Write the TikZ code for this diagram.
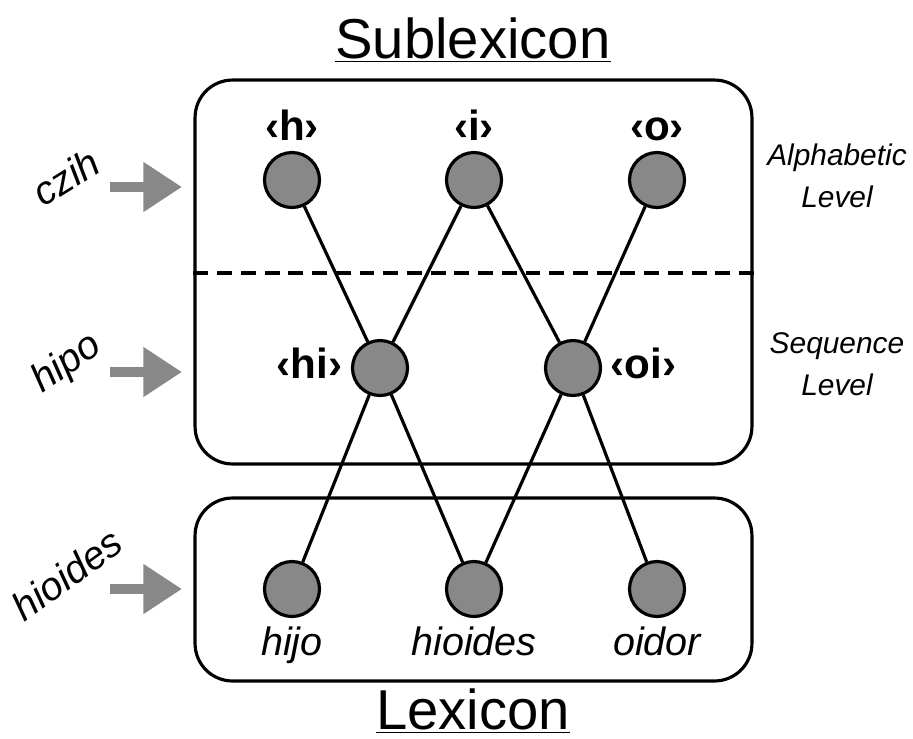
\documentclass[tikz,border=0pt]{standalone}
\usepackage{fontspec}
\setmainfont{Liberation Sans}
\usetikzlibrary{arrows.meta,positioning}
\definecolor{unitgray}{HTML}{888888}

\begin{document}
\begin{tikzpicture}[x=0.02cm,y=-0.02cm,line width=1.8pt,
  panel/.style={draw, rounded corners=0.75cm, minimum width=11.14cm},
  unit/.style={circle, draw, fill=unitgray, minimum size=1.1cm, inner sep=0pt},
  sym/.style={font=\bfseries\fontsize{24}{28}\selectfont, inner sep=0pt, text depth=0pt},
  word/.style={font=\itshape\fontsize{22.5}{27}\selectfont, inner sep=0pt},
  levelname/.style={font=\itshape\fontsize{17}{24}\selectfont, align=center},
  input/.style={font=\itshape\fontsize{22.5}{27}\selectfont, inner sep=0pt},
  feed/.style={line width=6.2pt, draw=unitgray, -{Triangle[length=22pt,width=27pt]}}]
  \useasboundingbox (0,0) rectangle (913,738);

  % Boxes
  \node[panel, minimum height=7.68cm] (sublexbox) at (473.5,272) {};
  \node[panel, minimum height=3.66cm] (lexbox)    at (473.5,589.5) {};
  \draw[dash pattern=on 8.5pt off 5pt] (sublexbox.west |- 0,273) -- (sublexbox.east |- 0,273);

  \node[font=\fontsize{32}{38}\selectfont] (sublextitle) at (473,40) {\underline{Sublexicon}};
  \node[font=\fontsize{32}{38}\selectfont] (lextitle)    at (473,711) {\underline{Lexicon}};

  % Units
  \node[unit] (h)       at (292,180) {};
  \node[unit] (i)       at (474,180) {};
  \node[unit] (o)       at (657,180) {};
  \node[unit] (hi)      at (380,368) {};
  \node[unit] (oi)      at (573,368) {};
  \node[unit] (hijo)    at (292,589) {};
  \node[unit] (hioides) at (474,589) {};
  \node[unit] (oidor)   at (657,589) {};

  \node[sym, above=5pt of h] (hlabel) {‹h›};
  \node[sym, above=5pt of i] (ilabel) {‹i›};
  \node[sym, above=5pt of o] (olabel) {‹o›};
  \node[sym, left=4pt of hi, yshift=3pt]  (hilabel) {‹hi›};
  \node[sym, right=4pt of oi, yshift=3pt] (oilabel) {‹oi›};

  \node[word, below=4pt of hijo]    (hijolabel)    {hijo};
  \node[word, below=4pt of hioides] (hioideslabel) {hioides};
  \node[word, below=4pt of oidor]   (oidorlabel)   {oidor};

  % Connections
  \draw (h) -- (hi);
  \draw (i) -- (hi);
  \draw (i) -- (oi);
  \draw (o) -- (oi);
  \draw (hi) -- (hijo);
  \draw (hi) -- (hioides);
  \draw (oi) -- (hioides);
  \draw (oi) -- (oidor);

  % Levels
  \node[levelname] (alphalevel) at (837,176) {Alphabetic\\Level};
  \node[levelname] (seqlevel)   at (837,364) {Sequence\\Level};

  % Inputs
  \node[input, rotate=32] (czihin)    at (66,177) {czih};
  \node[input, rotate=35] (hipoin)    at (67,364) {hipo};
  \node[input, rotate=36] (hioidesin) at (67,574) {hioides};

  \coordinate (czihfrom) at (110,187);  \coordinate (czihto) at (182,187);
  \coordinate (hipofrom) at (110,372);  \coordinate (hipoto) at (182,372);
  \coordinate (hioidesfrom) at (110,589); \coordinate (hioidesto) at (182,589);
  \draw[feed] (czihfrom) -- (czihto);
  \draw[feed] (hipofrom) -- (hipoto);
  \draw[feed] (hioidesfrom) -- (hioidesto);
\end{tikzpicture}
\end{document}
